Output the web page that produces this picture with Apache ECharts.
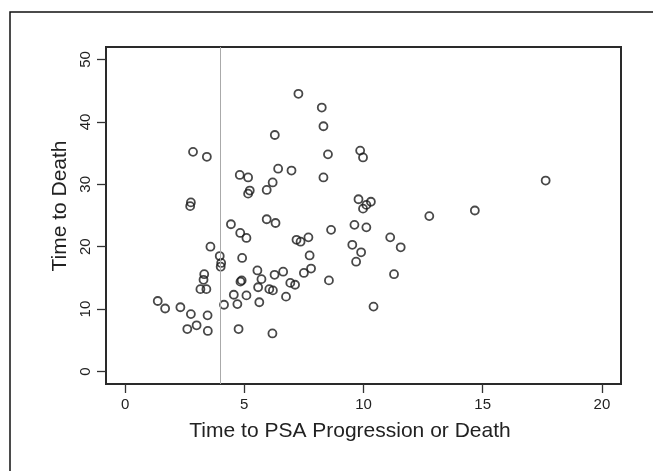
<!DOCTYPE html>
<html>
<head>
<meta charset="utf-8">
<script src="https://cdn.jsdelivr.net/npm/echarts@6/dist/echarts.min.js"></script>
<style>
  html, body { margin: 0; padding: 0; background: #fff; }
  #chart { width: 653px; height: 471px; }
</style>
</head>
<body>
<div id="chart"></div>
<script>
// Time to PSA Progression or Death (x) vs Time to Death (y)
const psaTime = [
  7.27, 8.25, 8.32, 6.28, 2.85, 3.43, 8.51, 9.86, 9.98, 6.42,
  6.98, 4.81, 5.16, 8.32, 6.19, 5.94, 5.23, 5.16, 17.64, 2.76,
  2.73, 9.79, 10.31, 10.12, 9.98, 14.67, 12.76, 5.94, 6.31, 4.44,
  9.62, 10.12, 8.64, 4.83, 5.09, 7.19, 7.36, 7.69, 11.12, 11.56,
  3.58, 9.53, 9.90, 3.97, 4.91, 7.74, 4.03, 4.01, 9.69, 7.80,
  5.55, 6.63, 7.50, 11.28, 3.32, 6.27, 3.29, 5.72, 4.89, 4.84,
  8.55, 6.93, 7.13, 5.58, 3.16, 3.41, 6.05, 6.20, 4.56, 5.09,
  6.75, 1.37, 5.63, 4.71, 4.15, 1.68, 2.32, 10.42, 2.76, 3.46,
  3.00, 2.61, 4.76, 3.47, 6.18
];
const deathTime = [
  44.5, 42.3, 39.3, 37.9, 35.2, 34.4, 34.8, 35.4, 34.3, 32.5,
  32.2, 31.5, 31.1, 31.1, 30.3, 29.1, 29.0, 28.5, 30.6, 27.1,
  26.5, 27.6, 27.2, 26.7, 26.1, 25.8, 24.9, 24.4, 23.8, 23.6,
  23.5, 23.1, 22.7, 22.2, 21.4, 21.1, 20.8, 21.5, 21.5, 19.9,
  20.0, 20.3, 19.1, 18.5, 18.2, 18.6, 17.4, 16.8, 17.6, 16.5,
  16.2, 16.0, 15.8, 15.6, 15.6, 15.5, 14.7, 14.8, 14.6, 14.4,
  14.6, 14.2, 13.9, 13.5, 13.2, 13.2, 13.2, 13.0, 12.3, 12.2,
  12.0, 11.3, 11.1, 10.8, 10.7, 10.1, 10.3, 10.4, 9.2, 9.0,
  7.4, 6.8, 6.8, 6.5, 6.1
];
const xTicks = [0, 5, 10, 15, 20];
const yTicks = [0, 10, 20, 30, 40, 50];
const cutoff = 4;
const xTitle = 'Time to PSA Progression or Death';
const yTitle = 'Time to Death';

const points = psaTime.map((x, i) => [x, deathTime[i]]);
const font = '"Liberation Sans", Arial, Helvetica, sans-serif';

const chart = echarts.init(document.getElementById('chart'), null, { renderer: 'canvas' });
chart.setOption({
  animation: false,
  backgroundColor: '#fff',
  grid: {
    left: 106, right: 32, top: 47, bottom: 87,
    show: true, borderColor: '#2a2a2a', borderWidth: 2, backgroundColor: 'transparent'
  },
  xAxis: {
    type: 'value', min: -0.8, max: 20.8, position: 'bottom',
    axisLine: { show: false, onZero: false },
    splitLine: { show: false },
    axisTick: { show: true, inside: false, customValues: xTicks, length: 9, lineStyle: { color: '#333', width: 1.3 } },
    axisLabel: { customValues: xTicks, fontSize: 15, color: '#222', margin: 13, fontFamily: font }
  },
  yAxis: {
    type: 'value', min: -2, max: 52, position: 'left',
    axisLine: { show: false, onZero: false },
    splitLine: { show: false },
    axisTick: { show: true, inside: false, customValues: yTicks, length: 9, lineStyle: { color: '#333', width: 1.3 } },
    axisLabel: { customValues: yTicks, fontSize: 15, color: '#222', margin: 13, rotate: 90, fontFamily: font }
  },
  graphic: [
    { type: 'polyline', shape: { points: [[10, 471], [10, 12], [653, 12]] },
      style: { stroke: '#111', lineWidth: 1.5, fill: null } },
    { type: 'text', x: 350, y: 431,
      style: { text: xTitle, fontSize: 21, fontFamily: font, fill: '#222', textAlign: 'center', textVerticalAlign: 'middle' } },
    { type: 'text', x: 60, y: 206, rotation: Math.PI / 2,
      style: { text: yTitle, fontSize: 21, fontFamily: font, fill: '#222', textAlign: 'center', textVerticalAlign: 'middle' } }
  ],
  series: [{
    type: 'scatter',
    data: points,
    symbol: 'circle',
    symbolSize: 8,
    itemStyle: { color: 'rgba(255,255,255,0)', borderColor: '#1a1a1a', borderWidth: 1.8 },
    markLine: {
      silent: true, symbol: 'none', label: { show: false },
      lineStyle: { color: '#aaa', width: 1, type: 'solid' },
      data: [{ xAxis: cutoff }]
    }
  }]
});
</script>
</body>
</html>
